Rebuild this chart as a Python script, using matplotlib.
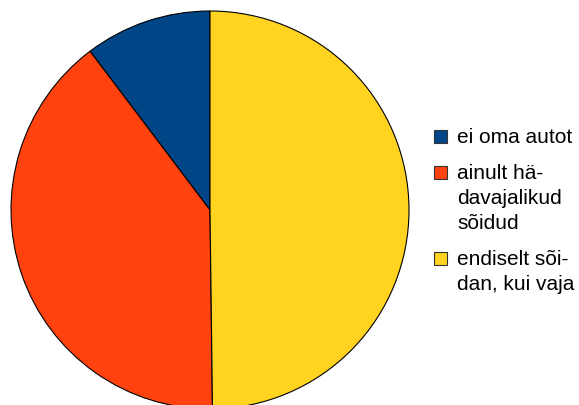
import matplotlib
matplotlib.use("Agg")
import matplotlib.pyplot as plt
from matplotlib.patches import Rectangle

# Shares of answers (percent)
labels = ["ei oma autot", "ainult hä-\ndavajalikud\nsõidud", "endiselt sõi-\ndan, kui vaja"]
values = [10.3, 39.9, 49.8]
slice_colours = ["#004586", "#ff420e", "#ffd320"]

plt.rcParams["font.family"] = ["Liberation Sans", "DejaVu Sans"]

W, H = 579, 405
fig = plt.figure(figsize=(W / 100, H / 100), dpi=100)
ax = fig.add_axes([0, 0, 1, 1])

ax.pie(
    values,
    colors=slice_colours,
    startangle=90,
    counterclock=True,
    center=(210, H - 210),
    radius=199,
    wedgeprops=dict(edgecolor="black", linewidth=0.8),
)
ax.set_xlim(0, W)
ax.set_ylim(0, H)
ax.set_aspect("equal")
ax.axis("off")

# Hand-made legend: square key aligned with the first text line
y = 136
for label, colour in zip(labels, slice_colours):
    ax.add_patch(Rectangle((434, H - y - 6.5), 13, 13, facecolor=colour,
                           edgecolor="#333333", linewidth=0.8))
    ax.text(457, H - y + 8, label, fontsize=15, va="top", ha="left",
            linespacing=1.4)
    n = label.count("\n") + 1
    y += 36 + 25 * (n - 1)

fig.savefig("out.png", dpi=100)
